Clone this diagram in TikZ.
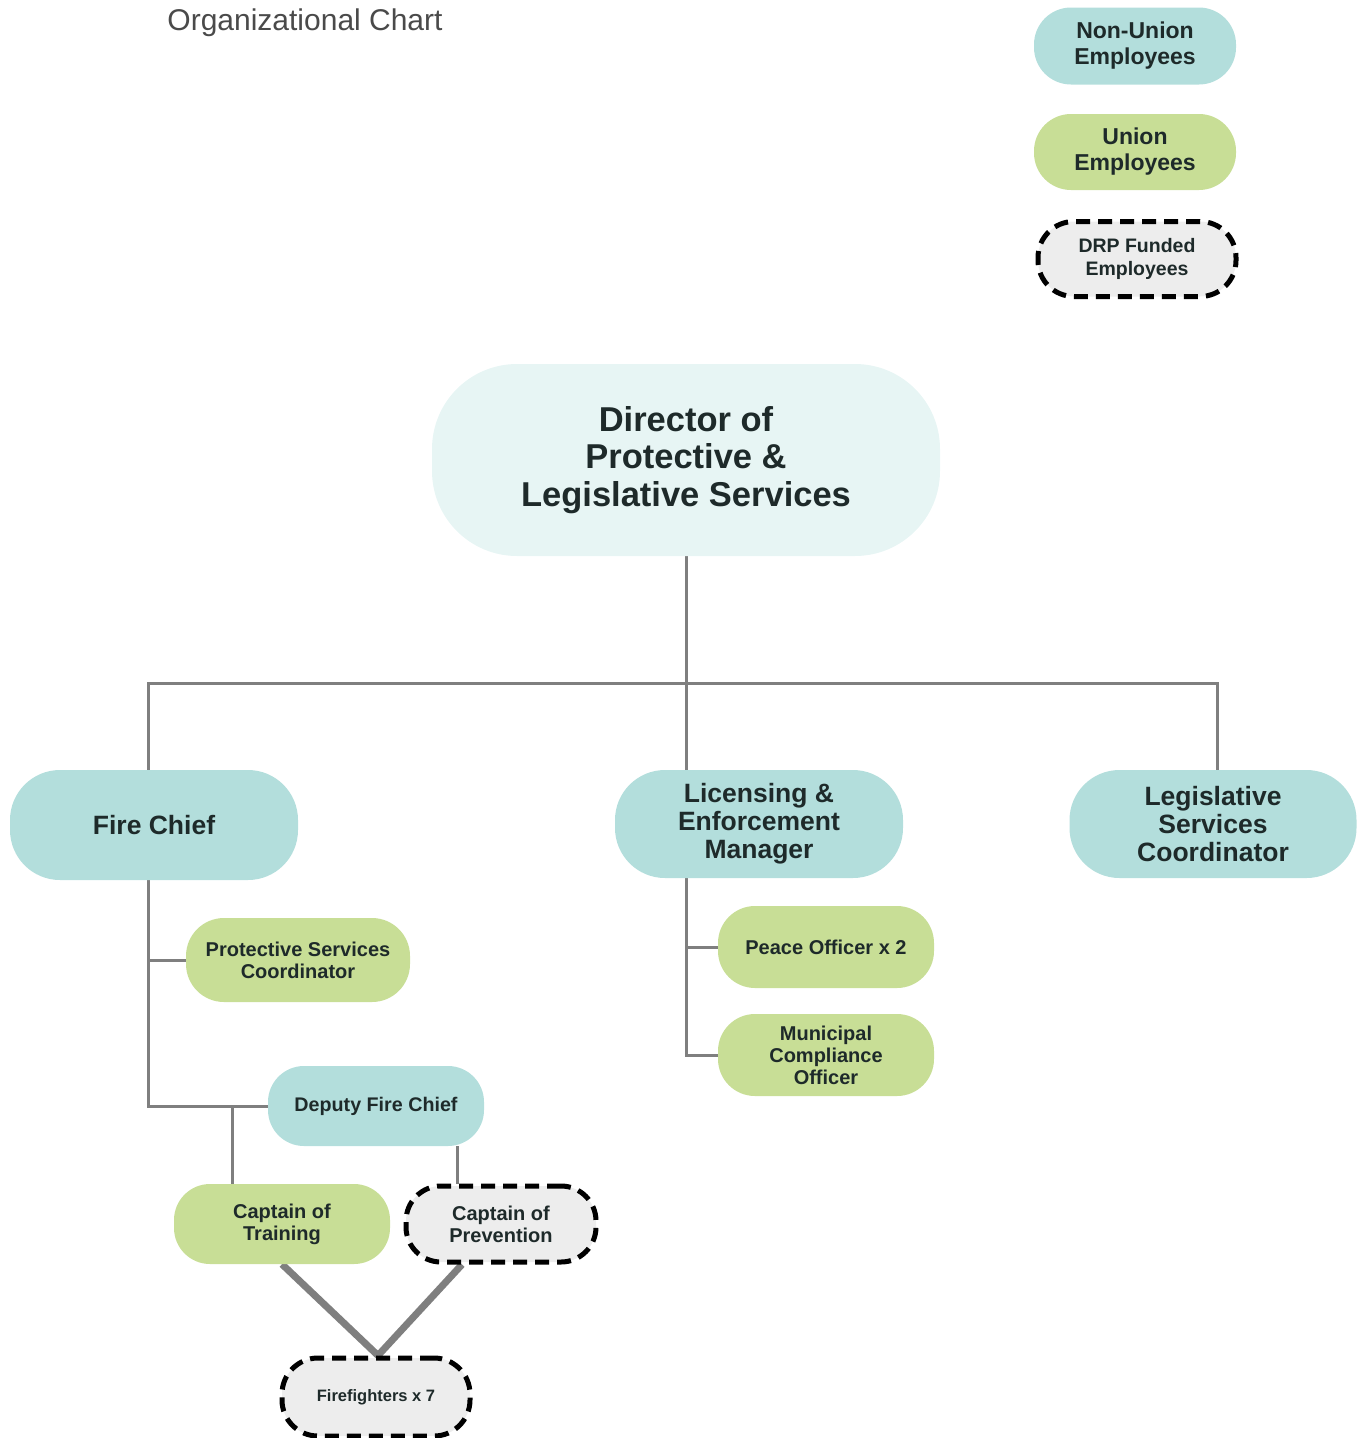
\documentclass[tikz,border=0pt]{standalone}
\usepackage{fontspec}
\setmainfont{Liberation Sans}
\usetikzlibrary{backgrounds}

\definecolor{nonunion}{HTML}{B3DEDC}
\definecolor{unionc}{HTML}{C8DE96}
\definecolor{dirfill}{HTML}{E7F5F4}
\definecolor{drpfill}{HTML}{EDEDED}
\definecolor{linegray}{HTML}{7F7F7F}
\definecolor{txt}{HTML}{1E2A2A}
\definecolor{titlegray}{HTML}{4A4A4A}

\newcommand{\fs}[2]{\fontsize{#1}{#2}\selectfont}

\tikzset{
  box/.style={rectangle, align=center, inner sep=0pt, text=txt},
  nonu/.style={box, fill=nonunion},
  uni/.style={box, fill=unionc},
  drp/.style={box, fill=drpfill, draw=black, line width=5pt, dash pattern=on 14pt off 8pt},
  conn/.style={draw=linegray, line width=3pt},
  thickconn/.style={draw=linegray, line width=7pt},
}

\begin{document}
\begin{tikzpicture}[x=1pt, y=-1pt]
\path[use as bounding box] (0,0) rectangle (1357,1438);

% title
\node[anchor=base, text=titlegray, font=\fs{30}{36}, inner sep=0pt] (title) at (305,30) {Organizational Chart};

% legend
\node[nonu, minimum width=202pt, minimum height=77pt, rounded corners=37pt, font=\bfseries\fs{23}{26}] (lgA) at (1135,46) {Non-Union\\Employees};
\node[uni, minimum width=202pt, minimum height=76pt, rounded corners=37pt, font=\bfseries\fs{23}{26}] (lgB) at (1135,152) {Union\\Employees};
\node[drp, minimum width=198pt, minimum height=75pt, rounded corners=36pt, font=\bfseries\fs{19.5}{23}] (lgC) at (1137,259) {DRP Funded\\Employees};

% top level
\node[box, fill=dirfill, minimum width=508pt, minimum height=192pt, rounded corners=85pt, font=\bfseries\fs{34.5}{37.5}] (dir) at (686,460) {Director of\\Protective \&\\Legislative Services};

% second level
\node[nonu, minimum width=288pt, minimum height=110pt, rounded corners=50pt, font=\bfseries\fs{26.5}{28}] (fire) at (154,825) {Fire Chief};
\node[nonu, minimum width=288pt, minimum height=108pt, rounded corners=50pt, font=\bfseries\fs{26.5}{28}] (lic) at (759,824) {Licensing \&\\Enforcement\\Manager};
\node[nonu, minimum width=287pt, minimum height=108pt, rounded corners=50pt, font=\bfseries\fs{26.5}{28}] (legis) at (1213,824) {Legislative\\Services\\Coordinator};

% fire branch
\node[uni, minimum width=224pt, minimum height=84pt, rounded corners=38pt, font=\bfseries\fs{20}{22}] (psc) at (298,960) {Protective Services\\Coordinator};
\node[nonu, minimum width=216pt, minimum height=80pt, rounded corners=36pt, font=\bfseries\fs{19.7}{22}] (dep) at (376,1106) {Deputy Fire Chief};
\node[uni, minimum width=216pt, minimum height=80pt, rounded corners=36pt, font=\bfseries\fs{20}{22}] (ctr) at (282,1224) {Captain of\\Training};
\node[drp, minimum width=190pt, minimum height=76pt, rounded corners=35pt, font=\bfseries\fs{20}{22}] (prev) at (501,1224) {Captain of\\Prevention};
\node[drp, minimum width=188pt, minimum height=78pt, rounded corners=36pt, font=\bfseries\fs{16.5}{20}] (ff) at (376,1397) {Firefighters x 7};

% licensing branch
\node[uni, minimum width=216pt, minimum height=82pt, rounded corners=37pt, font=\bfseries\fs{20}{22}] (peace) at (826,947) {Peace Officer x 2};
\node[uni, minimum width=216pt, minimum height=82pt, rounded corners=37pt, font=\bfseries\fs{20}{22}] (mun) at (826,1055) {Municipal\\Compliance\\Officer};

% junction points of the connectors
\coordinate (busL) at (148,683);
\coordinate (busR) at (1217,683);
\coordinate (trx) at (232,0);
\coordinate (pvx) at (457,0);

\begin{scope}[on background layer]
  \draw[conn] (dir.south) -- (dir.south |- lic.north);
  \draw[conn] (busL |- fire.north) -- (busL) -- (busR) -- (busR |- legis.north);
  % under the fire chief
  \draw[conn] (busL |- fire.south) -- (busL |- dep.west) -- (dep.west);
  \draw[conn] (busL |- psc.west) -- (psc.west);
  \draw[conn] (trx |- dep.west) -- (trx |- ctr.north);
  \draw[conn] (pvx |- dep.south) -- (pvx |- prev.north);
  \draw[thickconn] (ctr.south) -- ([xshift=2pt]ff.north);
  \draw[thickconn] ([xshift=-39pt]prev.south) -- ([xshift=2pt]ff.north);
  % under the licensing manager
  \draw[conn] (dir.south |- lic.south) -- (dir.south |- mun.west) -- (mun.west);
  \draw[conn] (dir.south |- peace.west) -- (peace.west);
\end{scope}
\end{tikzpicture}
\end{document}
